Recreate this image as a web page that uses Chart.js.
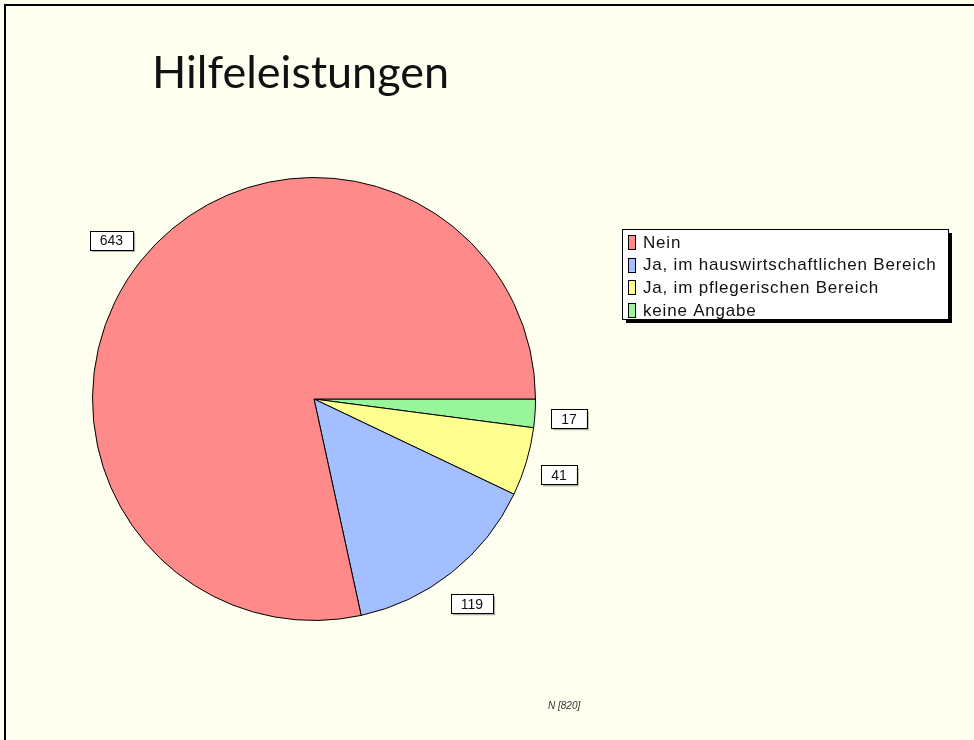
<!DOCTYPE html>
<html>
<head>
<meta charset="utf-8">
<title>Hilfeleistungen</title>
<script src="https://cdn.jsdelivr.net/npm/chart.js@4/dist/chart.umd.min.js"></script>
<style>
    html, body { margin: 0; padding: 0; background: #fffff0; }
    #wrap { position: relative; width: 974px; height: 740px; }
</style>
</head>
<body>
<div id="wrap"><canvas id="pieChart"></canvas></div>
<script>
// data, in drawing order (clockwise from 3 o'clock)
const labels = ['keine Angabe', 'Ja, im pflegerischen Bereich', 'Ja, im hauswirtschaftlichen Bereich', 'Nein'];
const values = [17, 41, 119, 643];
const colors = ['#99f59a', '#ffff8f', '#a3bfff', '#ff8a8a'];
const titleText = 'Hilfeleistungen';
const footText = 'N [820]';

// frame, title, footnote, value boxes and the legend box
const decorations = {
    id: 'decorations',
    beforeDraw(chart) {
        const c = chart.ctx;
        c.save();
        c.fillStyle = '#fffff0';
        c.fillRect(0, 0, chart.width, chart.height);
        c.strokeStyle = '#000';
        c.lineWidth = 2;
        c.beginPath();
        c.moveTo(5, 740);
        c.lineTo(5, 5);
        c.lineTo(974, 5);
        c.stroke();
        c.restore();
    },
    afterDraw(chart) {
        const c = chart.ctx;
        c.save();

        // title
        c.fillStyle = '#111';
        c.font = '45px Lato';
        c.textBaseline = 'alphabetic';
        c.fillText(titleText, 152, 88);

        // footnote
        c.font = 'italic 10px "Liberation Sans"';
        c.fillStyle = '#333';
        c.fillText(footText, 548, 709);

        // value boxes around the pie
        const meta = chart.getDatasetMeta(0);
        c.font = '14px "Liberation Sans"';
        c.textAlign = 'center';
        c.textBaseline = 'middle';
        meta.data.forEach((arc, i) => {
            const p = arc.getProps(['x', 'y', 'startAngle', 'endAngle', 'outerRadius'], true);
            const mid = (p.startAngle + p.endAngle) / 2;
            const d = p.outerRadius + 36;
            const x = p.x + Math.cos(mid) * d - 2;
            const y = p.y + Math.sin(mid) * d + 3;
            const txt = String(values[i]);
            const w = c.measureText(txt).width + 20;
            const h = 19;
            c.fillStyle = '#b0b0a0';
            c.fillRect(x - w / 2 + 2, y - h / 2 + 2, w, h);
            c.fillStyle = '#ffffff';
            c.fillRect(x - w / 2, y - h / 2, w, h);
            c.strokeStyle = '#000';
            c.lineWidth = 1;
            c.strokeRect(Math.round(x - w / 2) + 0.5, Math.round(y - h / 2) + 0.5, Math.round(w), h);
            c.fillStyle = '#111';
            c.fillText(txt, x, y + 1);
        });

        // legend (reverse of drawing order)
        const lx = 622, ly = 229, lw = 326, lh = 90;
        c.fillStyle = '#000';
        c.fillRect(lx + 4, ly + 4, lw, lh);
        c.fillStyle = '#ffffff';
        c.fillRect(lx, ly, lw, lh);
        c.strokeStyle = '#000';
        c.lineWidth = 1;
        c.strokeRect(lx + 0.5, ly + 0.5, lw, lh);
        c.textAlign = 'left';
        c.font = '17px "Liberation Sans"';
        c.letterSpacing = '0.8px';
        const order = labels.map((_, i) => i).reverse();
        order.forEach((idx, row) => {
            const cy = 242 + row * 22.7;
            c.fillStyle = colors[idx];
            c.fillRect(628, cy - 7, 7, 14);
            c.strokeStyle = '#000';
            c.strokeRect(628.5, Math.round(cy - 7) + 0.5, 7, 14);
            c.fillStyle = '#111';
            c.fillText(labels[idx], 643, cy + 1);
        });
        c.restore();
    }
};

new Chart(document.getElementById('pieChart'), {
    type: 'pie',
    data: {
        labels: labels,
        datasets: [{
            data: values,
            backgroundColor: colors,
            borderColor: '#000',
            borderWidth: 1
        }]
    },
    options: {
        responsive: true,
        maintainAspectRatio: false,
        animation: false,
        rotation: 90,
        layout: { padding: { left: 92, top: 177, right: 438, bottom: 119 } },
        plugins: {
            legend: { display: false },
            tooltip: { enabled: false }
        }
    },
    plugins: [decorations]
});
</script>
</body>
</html>
